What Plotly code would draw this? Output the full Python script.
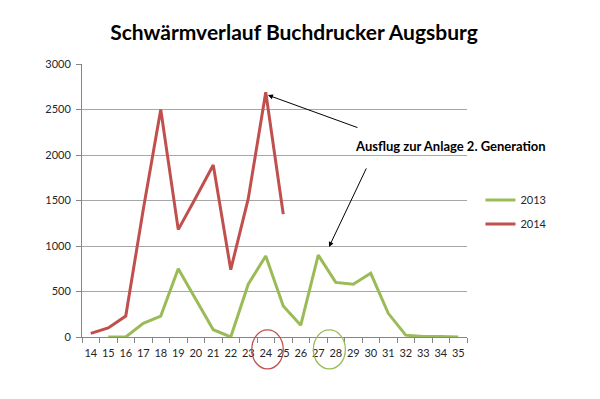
import plotly.graph_objects as go

weeks = [str(w) for w in range(14, 36)]
y2013 = [None, 0, 0, 150, 230, 750, 420, 80, 0, 580, 890, 340, 130, 900, 600, 580, 700, 260, 20, 5, 5, 0]
y2014 = [40, 100, 230, 1400, 2500, 1180, 1530, 1890, 740, 1520, 2690, 1350] + [None] * 10

title_text = "Schwärmverlauf Buchdrucker Augsburg"
note_text = "Ausflug zur Anlage 2. Generation"

FONT = "Lato"
W, H = 592, 391  # page body has an 8px margin
fig = go.Figure()
fig.add_trace(go.Scatter(x=weeks, y=y2013, name="2013", mode="lines", legendgroup="a",
                         line=dict(color="#9BBB59", width=3)))
fig.add_trace(go.Scatter(x=weeks, y=y2014, name="2014", mode="lines", legendgroup="b",
                         line=dict(color="#C0504D", width=3)))

fig.update_layout(
    width=W, height=H,
    margin=dict(l=74, r=133, t=56, b=62, autoexpand=False),
    paper_bgcolor="white", plot_bgcolor="white",
    font=dict(family=FONT, size=11, color="#262626"),
    title=dict(text="<b>" + title_text + "</b>", x=286 / W, xanchor="center",
               y=1 - 25 / H, yanchor="middle",
               font=dict(family=FONT, size=21, color="#000000")),
    showlegend=True,
    legend=dict(x=1.035, y=0.555, xanchor="left", yanchor="top",
                font=dict(family=FONT, size=11, color="#262626"),
                bgcolor="rgba(0,0,0,0)", tracegroupgap=5, itemwidth=30),
)
fig.update_xaxes(type="category", range=[-0.5, 21.5], showgrid=False,
                 showline=True, linecolor="#868686", linewidth=1,
                 ticks="outside", tickson="boundaries", ticklen=5, tickangle=0,
                 automargin=False, ticklabelstandoff=6,
                 tickcolor="#868686", tickfont=dict(size=11, family=FONT))
fig.update_yaxes(range=[0, 3000], dtick=500, showgrid=True, gridcolor="#A6A6A6",
                 gridwidth=1, showline=True, linecolor="#868686", linewidth=1,
                 ticks="outside", ticklen=5, tickcolor="#868686", zeroline=False,
                 automargin=False, ticklabelstandoff=3,
                 tickfont=dict(size=11, family=FONT))

# Annotation text and arrows
fig.add_annotation(x=0.956, y=0.70, xref="paper", yref="paper", text="<b>" + note_text + "</b>",
                   showarrow=False, xanchor="center", yanchor="middle",
                   font=dict(family=FONT, size=13, color="#000000"))
fig.add_annotation(x=0.483, y=0.886, xref="paper", yref="paper", text="",
                   showarrow=True, ax=91, ay=33, arrowhead=2, arrowsize=1,
                   arrowwidth=1, arrowcolor="#000000")
fig.add_annotation(x=0.6416, y=0.33, xref="paper", yref="paper", text="",
                   showarrow=True, ax=38, ay=-80, arrowhead=2, arrowsize=1,
                   arrowwidth=1, arrowcolor="#000000")

# Circles around week labels
fig.add_shape(type="circle", xref="x", yref="paper", x0=9.2, x1=11.0,
              y0=-0.117, y1=0.026, line=dict(color="#C0504D", width=1.3))
fig.add_shape(type="circle", xref="x", yref="paper", x0=12.72, x1=14.55,
              y0=-0.117, y1=0.026, line=dict(color="#9BBB59", width=1.3))

fig.write_html("out.html")
